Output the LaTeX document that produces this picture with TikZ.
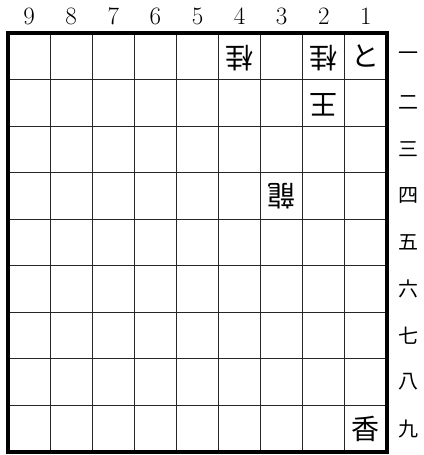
\documentclass[tikz,border=0pt]{standalone}
\usepackage{fontspec}
\newfontfamily\jp{Noto Sans CJK JP}
\begin{document}
\begin{tikzpicture}[x=1pt,y=-1pt,
  gridline/.style={draw=black!85,line width=0.9pt},
  frame/.style={draw=black,line width=3.5pt},
  colnum/.style={font=\fontsize{25}{25}\selectfont,anchor=center},
  ranknum/.style={font=\jp\fontsize{20}{20}\selectfont,anchor=center},
  piece/.style={font=\jp\fontsize{28}{28}\selectfont,anchor=center,inner sep=0pt},
  gote/.style={piece,rotate=180}]
\useasboundingbox (0,0) rectangle (423,455);
\def\L{8}\def\T{33}\def\W{42.11}\def\H{46.56}
% grid
\foreach \i in {1,...,8}{
  \draw[gridline] ({\L+\i*\W},\T) -- ({\L+\i*\W},{\T+9*\H});
  \draw[gridline] (\L,{\T+\i*\H}) -- ({\L+9*\W},{\T+\i*\H});
}
\draw[frame] (\L,\T) rectangle ({\L+9*\W},{\T+9*\H});
% column numbers
\foreach \n [count=\k from 0] in {9,8,7,6,5,4,3,2,1}{
  \node[colnum] (c\n) at ({\L+(\k+0.5)*\W},16) {\n};
}
% rank numbers
\foreach \r [count=\k from 0] in {一,二,三,四,五,六,七,八,九}{
  \node[ranknum] (r\k) at (408,{\T+(\k+0.5)*\H}) {\r};
}
% pieces: file f -> x index 9-f
\node[piece] (p11) at ({\L+8.5*\W},{\T+0.5*\H}) {と};
\node[gote]  (p21) at ({\L+7.5*\W},{\T+0.55*\H}) {桂};
\node[gote]  (p41) at ({\L+5.5*\W},{\T+0.55*\H}) {桂};
\node[gote]  (p22) at ({\L+7.5*\W},{\T+1.55*\H}) {王};
\node[gote]  (p34) at ({\L+6.5*\W},{\T+3.5*\H}) {龍};
\node[piece] (p19) at ({\L+8.5*\W},{\T+8.5*\H}) {香};
\end{tikzpicture}
\end{document}
